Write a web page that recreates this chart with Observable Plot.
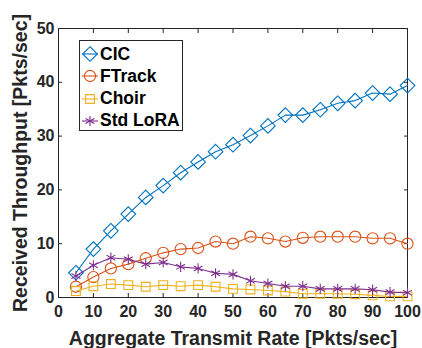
<!DOCTYPE html>
<html><head><meta charset="utf-8">
<script src="https://cdn.jsdelivr.net/npm/d3@7"></script>
<script src="https://cdn.jsdelivr.net/npm/@observablehq/plot@0.6"></script>
<style>
body{margin:0;background:#fff;}
#wrap{position:relative;width:422px;height:348px;font-family:"Liberation Sans",Arial,sans-serif;}
#legend{position:absolute;left:79px;top:40px;width:104px;height:91px;border:1px solid #262626;background:#fff;box-sizing:border-box;}
.item{position:absolute;left:0;height:22px;display:flex;align-items:center;font-weight:bold;font-size:17.5px;color:#000;}
.item svg{margin-left:1px;margin-right:1px;}
</style></head><body>
<div id="wrap"><div id="legend"></div></div>
<script>
const rates = [5,10,15,20,25,30,35,40,45,50,55,60,65,70,75,80,85,90,95,100];
const cic = [4.6,9.0,12.4,15.5,18.6,20.8,23.2,25.2,27.1,28.4,30.1,31.9,33.9,33.9,34.9,36.1,36.6,38.0,37.8,39.4];
const ftrack = [2.0,3.8,5.4,6.2,7.3,8.3,9.0,9.2,10.4,10.0,11.3,11.0,10.4,11.1,11.3,11.3,11.3,11.0,11.0,10.0];
const choir = [1.2,2.1,2.5,2.3,2.0,2.3,2.1,2.3,2.0,1.6,1.5,1.3,1.1,0.7,0.7,0.7,0.6,0.4,0.2,0.2];
const stdlora = [4.0,6.0,7.4,7.1,6.2,6.5,5.7,5.4,4.5,4.3,3.1,2.6,2.1,2.1,1.6,1.6,1.6,1.45,1.0,0.9];
const seriesNames = ["CIC","FTrack","Choir","Std LoRA"];
const seriesValues = [cic, ftrack, choir, stdlora];
const xTicks = [0,10,20,30,40,50,60,70,80,90,100];
const yTicks = [0,10,20,30,40,50];
const xLabel = "Aggregate Transmit Rate [Pkts/sec]";
const yLabel = "Received Throughput [Pkts/sec]";

const colors = ["#0072BD","#D95319","#EDB120","#7E2F8E"];
const symbols = ["diamond2","circle","square2","asterisk"];
const radii = [6.6,5.6,5.6,4.8];

const rows = [];
seriesNames.forEach((s,i)=>seriesValues[i].forEach((v,j)=>rows.push({series:s, x:rates[j], y:v})));

const font = "Liberation Sans, Arial, sans-serif";
const axisCol = "#262626";
const marks = [];
seriesNames.forEach((s,i)=>{
  const d = rows.filter(r=>r.series===s);
  marks.push(Plot.line(d,{x:"x",y:"y",stroke:colors[i],strokeWidth:1.1}));
  marks.push(Plot.dot(d,{x:"x",y:"y",stroke:colors[i],symbol:()=>symbols[i],r:radii[i],fill:"none",strokeWidth:1.1}));
});

const chart = Plot.plot({
  width:422, height:348,
  marginLeft:58, marginRight:15, marginTop:28, marginBottom:51,
  x:{domain:[0,100]},
  y:{domain:[0,50]},
  symbol:{type:"identity"},
  style:{fontFamily:font, background:"#fff", color:axisCol},
  marks:[
    Plot.frame({stroke:axisCol, strokeWidth:1}),
    Plot.axisX({ticks:xTicks, tickSize:0, tickPadding:8, fontSize:16, fontWeight:"bold", label:null, fill:axisCol}),
    Plot.axisX({ticks:xTicks, tickSize:-4, tickFormat:()=>"", label:null, stroke:axisCol}),
    Plot.axisX({anchor:"top", ticks:xTicks, tickSize:-4, tickFormat:()=>"", label:null, stroke:axisCol}),
    Plot.axisY({ticks:yTicks, tickSize:0, tickPadding:4, fontSize:16, fontWeight:"bold", label:null, fill:axisCol}),
    Plot.axisY({ticks:yTicks, tickSize:-4, tickFormat:()=>"", label:null, stroke:axisCol}),
    Plot.axisY({anchor:"right", ticks:yTicks, tickSize:-4, tickFormat:()=>"", label:null, stroke:axisCol}),
    Plot.text([xLabel],{text:d=>d, frameAnchor:"bottom", dy:47, lineAnchor:"bottom", textAnchor:"middle", fontSize:19.5, fontWeight:"bold", fill:axisCol}),
    Plot.text([yLabel],{text:d=>d, frameAnchor:"left", dx:-38, rotate:-90, textAnchor:"middle", lineAnchor:"middle", fontSize:19.5, fontWeight:"bold", fill:axisCol}),
    ...marks
  ]
});
document.getElementById("wrap").prepend(chart);

const leg = document.getElementById("legend");
const symPaths = {
  "diamond2": r=>d3.symbol(d3.symbolDiamond2, Math.PI*r*r)(),
  "circle": r=>d3.symbol(d3.symbolCircle, Math.PI*r*r)(),
  "square2": r=>d3.symbol(d3.symbolSquare2, Math.PI*r*r)(),
  "asterisk": r=>d3.symbol(d3.symbolAsterisk, Math.PI*r*r)()
};
seriesNames.forEach((s,i)=>{
  const it = document.createElement("div");
  it.className="item";
  it.style.top = (2 + i*22.3) + "px";
  it.innerHTML = `<svg width="18" height="20" viewBox="-9 -10 18 20"><line x1="-8" x2="8" y1="0" y2="0" stroke="${colors[i]}" stroke-width="1.1"/><path d="${symPaths[symbols[i]](radii[i])}" fill="none" stroke="${colors[i]}" stroke-width="1.1"/></svg><span>${s}</span>`;
  leg.appendChild(it);
});
</script>
</body></html>
